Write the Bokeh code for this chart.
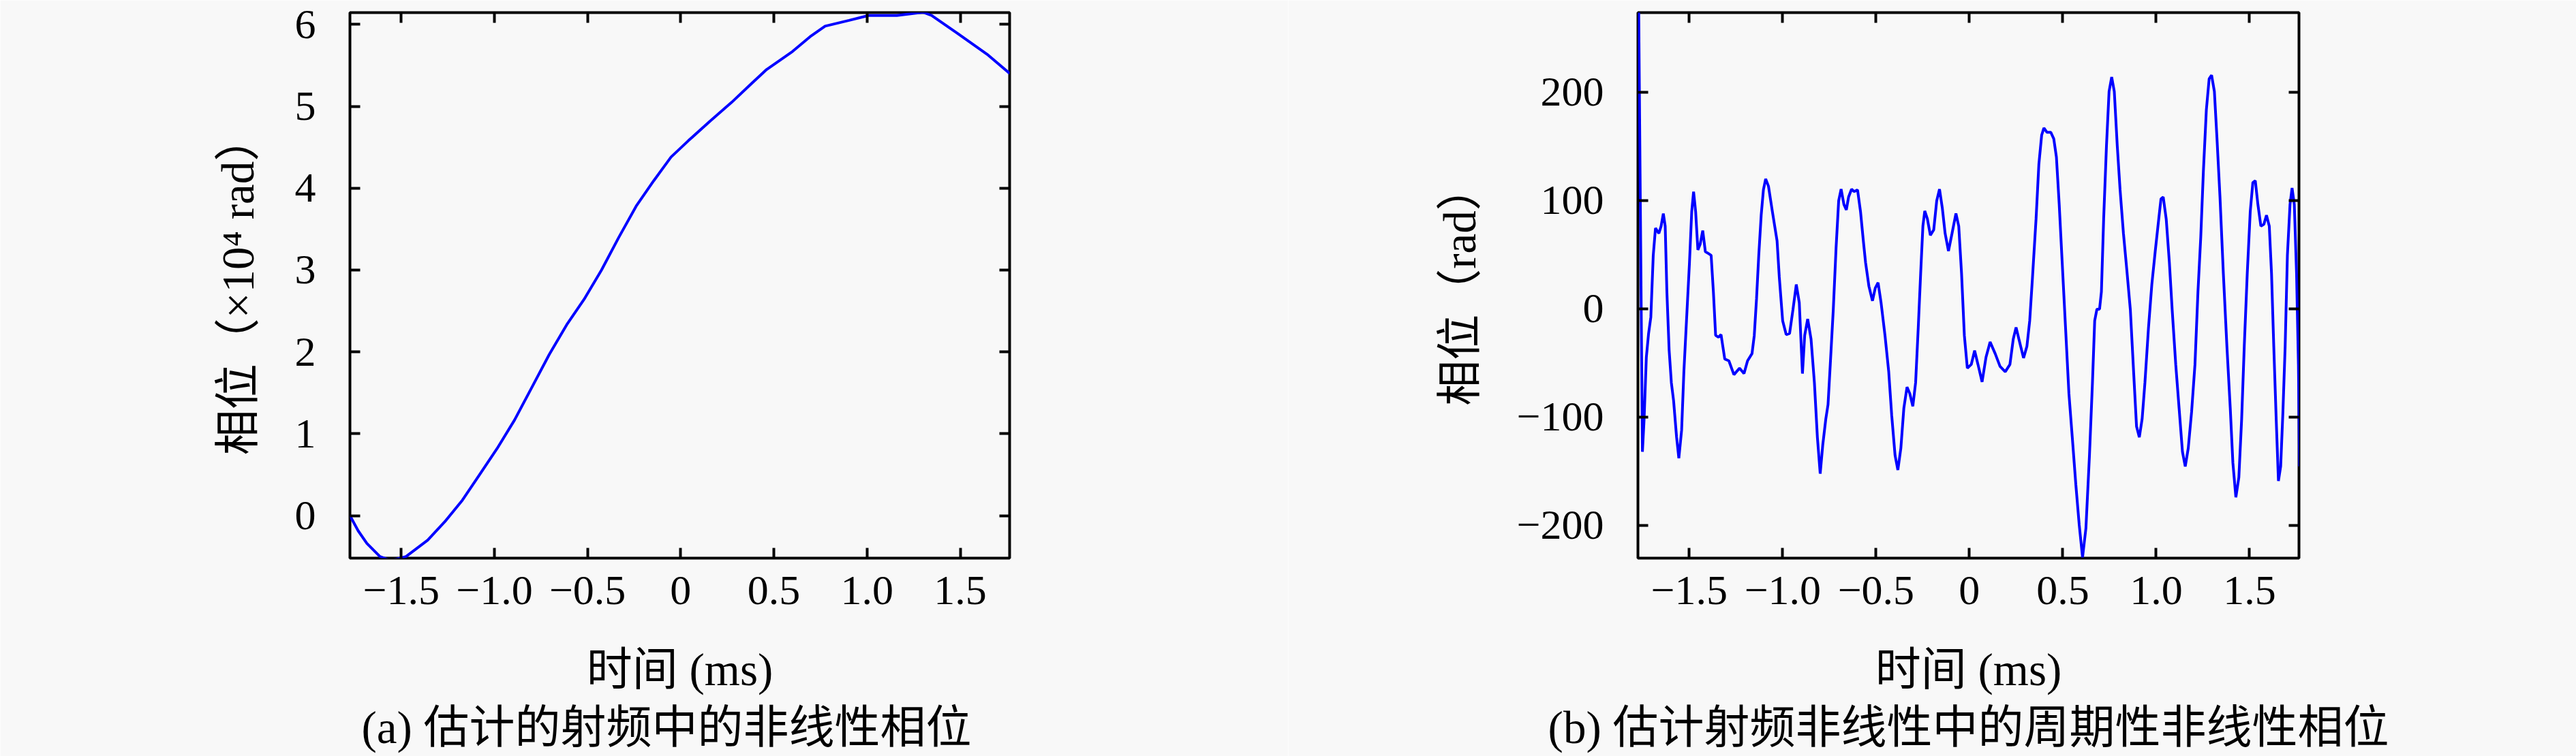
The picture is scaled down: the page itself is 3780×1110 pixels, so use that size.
from bokeh.plotting import figure
from bokeh.layouts import row
from bokeh.models import FixedTicker, LinearAxis, Range1d, Title
from bokeh.embed import file_html
from bokeh.resources import INLINE

# ---------------- data ----------------
time_a = [-1.775, -1.731, -1.684, -1.614, -1.556, -1.474, -1.358, -1.264, -1.171, -1.078,
          -0.985, -0.891, -0.798, -0.705, -0.612, -0.519, -0.425, -0.332, -0.239, -0.145,
          -0.052, 0.041, 0.158, 0.274, 0.367, 0.461, 0.600, 0.694, 0.775, 0.904,
          1.008, 1.160, 1.300, 1.346, 1.486, 1.650, 1.766]
phase_a = [0.0, -0.185, -0.34, -0.50, -0.55, -0.50, -0.30, -0.07, 0.19, 0.505,
           0.82, 1.17, 1.57, 1.97, 2.33, 2.64, 3.00, 3.40, 3.78, 4.09,
           4.38, 4.58, 4.82, 5.05, 5.25, 5.45, 5.67, 5.85, 5.98, 6.05,
           6.11, 6.11, 6.15, 6.11, 5.89, 5.625, 5.40]

time_b = [-1.772, -1.751, -1.742, -1.730, -1.718, -1.706, -1.693, -1.681, -1.663, -1.651,
          -1.639, -1.629, -1.620, -1.608, -1.596, -1.584, -1.568, -1.556, -1.541, -1.529,
          -1.515, -1.499, -1.487, -1.477, -1.466, -1.454, -1.442, -1.428, -1.414, -1.398,
          -1.383, -1.371, -1.359, -1.344, -1.330, -1.310, -1.288, -1.261, -1.231, -1.207,
          -1.188, -1.164, -1.152, -1.140, -1.128, -1.115, -1.103, -1.091, -1.076, -1.055,
          -1.030, -1.018, -1.000, -0.981, -0.963, -0.945, -0.927, -0.911, -0.894, -0.882,
          -0.866, -0.848, -0.830, -0.814, -0.799, -0.785, -0.769, -0.757, -0.745, -0.729,
          -0.714, -0.700, -0.687, -0.672, -0.659, -0.647, -0.631, -0.617, -0.599, -0.583,
          -0.568, -0.556, -0.538, -0.519, -0.504, -0.489, -0.473, -0.452, -0.432, -0.416,
          -0.398, -0.383, -0.367, -0.351, -0.334, -0.319, -0.303, -0.288, -0.274, -0.261,
          -0.249, -0.239, -0.225, -0.209, -0.191, -0.175, -0.160, -0.145, -0.130, -0.112,
          -0.093, -0.072, -0.057, -0.042, -0.027, -0.011, 0.010, 0.028, 0.046, 0.068,
          0.089, 0.111, 0.138, 0.164, 0.192, 0.217, 0.235, 0.250, 0.265, 0.290,
          0.308, 0.323, 0.338, 0.357, 0.372, 0.387, 0.399, 0.415, 0.436, 0.452,
          0.466, 0.481, 0.497, 0.515, 0.533, 0.551, 0.570, 0.588, 0.606, 0.624,
          0.643, 0.659, 0.671, 0.683, 0.697, 0.707, 0.719, 0.734, 0.748, 0.762,
          0.776, 0.792, 0.807, 0.825, 0.843, 0.862, 0.880, 0.895, 0.910, 0.925,
          0.940, 0.959, 0.977, 0.995, 1.014, 1.026, 1.038, 1.054, 1.071, 1.086,
          1.105, 1.123, 1.141, 1.156, 1.172, 1.190, 1.208, 1.224, 1.239, 1.253,
          1.269, 1.284, 1.297, 1.312, 1.326, 1.342, 1.360, 1.379, 1.397, 1.411,
          1.427, 1.443, 1.458, 1.472, 1.488, 1.504, 1.518, 1.531, 1.545, 1.561,
          1.577, 1.591, 1.606, 1.618, 1.630, 1.643, 1.655, 1.667, 1.679, 1.691,
          1.703, 1.717, 1.728, 1.740, 1.752, 1.762, 1.768]
phase_b = [300, -132, -102, -44.7, -22.8, -7.7, 49.4, 74.6, 69.6, 76.3,
           88, 76.3, 15.8, -38, -68.2, -85, -118.6, -138, -111.9, -58.1,
           -11, 42.7, 89.7, 108.2, 89.7, 54.4, 59.5, 72.2, 52.8, 51.1,
           49.4, 15.8, -24.5, -26.2, -23.8, -46.4, -48, -60.8, -54.8, -59.8,
           -48, -41.3, -24.5, 9.1, 49.4, 86.4, 109.9, 120, 113.2, 89.7,
           62.8, 29.2, -11, -23.8, -22.8, -1, 22.5, 5.7, -59.8, -24.5,
           -9.4, -27.9, -68.2, -118.6, -152.2, -125.3, -101.8, -88.4, -51.4, -1,
           56.1, 99.8, 110.5, 96.4, 91.4, 103.2, 110.5, 108.2, 109.9, 89.7,
           62.8, 42.7, 20.8, 7.4, 19.2, 24.2, 5.7, -24.5, -58.1, -98.4,
           -135.4, -148.8, -128.7, -91.7, -72.2, -78.3, -90, -68.2, -17.8, 32.6,
           76.3, 90.4, 83, 67.9, 72.9, 99.8, 110.5, 93, 69.6, 53.4,
           69.6, 88, 76.3, 32.6, -24.5, -54.8, -51.4, -38.6, -51.4, -67.5,
           -44.7, -30.6, -41.3, -53.1, -58.1, -51.4, -27.9, -17.1, -27.9, -45.4,
           -34.6, -11, 29.2, 83, 133.4, 160.3, 167, 163, 163, 156.9,
           140.1, 96.4, 42.7, -17.8, -78.3, -118.6, -162.3, -199.2, -229.5, -202.6,
           -135.4, -68.2, -11, -0.3, -0.3, 15.8, 83, 150.2, 200.6, 214,
           200.6, 150.2, 109.9, 69.6, 36, -1, -60, -108.5, -118.6, -101.8,
           -68.2, -17.8, 22.5, 52.8, 83, 101.5, 103.2, 83, 42.7, -1,
           -51.4, -91.7, -132, -145.5, -128.7, -95.1, -51.4, 15.8, 66.2, 126.7,
           183.8, 212.4, 215.7, 200.6, 156.9, 103.2, 32.6, -34.6, -91.7, -142.1,
           -174, -155.6, -101.8, -34.6, 32.6, 89.7, 116.6, 118.3, 96.4, 76.3,
           78, 86.4, 76.3, 32.6, -34.6, -101.8, -158.9, -145.5, -95.1, -34.6,
           49.4, 96.4, 111.6, 96.4, 32.6, -51.4, -145.5]

x_ticks = [-1.5, -1.0, -0.5, 0, 0.5, 1.0, 1.5]
x_tick_labels = ["\u22121.5", "\u22121.0", "\u22120.5", "0", "0.5", "1.0", "1.5"]
y_ticks_a = [0, 1, 2, 3, 4, 5, 6]
y_tick_labels_a = ["0", "1", "2", "3", "4", "5", "6"]
y_ticks_b = [-200, -100, 0, 100, 200]
y_tick_labels_b = ["\u2212200", "\u2212100", "0", "100", "200"]

x_label = "时间 (ms)"
y_label_a = "相位（×10⁴ rad）"
y_label_b = "相位（rad）"
caption_a = "(a) 估计的射频中的非线性相位"
caption_b = "(b) 估计射频非线性中的周期性非线性相位"

assert len(time_a) == len(phase_a)
assert len(time_b) == len(phase_b)

# ---------------- style ----------------
BG = "#f8f8f8"
FONT = "'Liberation Serif', 'Noto Sans CJK SC'"
FS = "62px"      # tick labels
FS_LABEL = "67px"  # axis labels and captions
LINE = "#0000ff"
FIG_H = 1110


def style_axis(ax, ticks, labels, show_labels=True):
    ax.ticker = FixedTicker(ticks=ticks)
    ax.major_label_overrides = {t: l for t, l in zip(ticks, labels)}
    ax.major_tick_in = 15
    ax.major_tick_out = 0
    ax.major_tick_line_width = 4
    ax.major_tick_line_color = "black"
    ax.minor_tick_line_color = None
    ax.axis_line_color = None
    ax.major_label_text_font = FONT
    ax.major_label_text_line_height = 1.0
    if show_labels:
        ax.major_label_text_font_size = FS
        ax.major_label_text_color = "black"
    else:
        ax.major_label_text_font_size = "1px"
        ax.major_label_text_color = None
        ax.major_label_text_alpha = 0
        ax.major_label_standoff = 0


def make_panel(xs, ys, yr, yticks, ylabels, ylabel, caption, width,
               border_left, border_right, cap_align, cap_offset):
    p = figure(width=width, height=FIG_H, output_backend="svg", toolbar_location=None,
               x_range=Range1d(-1.775, 1.765), y_range=Range1d(*yr),
               min_border_left=border_left, min_border_right=border_right,
               min_border_top=18, min_border_bottom=289)
    p.background_fill_color = BG
    p.border_fill_color = BG
    p.outline_line_color = "black"
    p.outline_line_width = 4
    p.xgrid.visible = False
    p.ygrid.visible = False

    xa = p.xaxis[0]
    style_axis(xa, x_ticks, x_tick_labels)
    xa.major_label_standoff = 27
    xa.axis_label = x_label
    xa.axis_label_text_font = FONT
    xa.axis_label_text_font_size = FS_LABEL
    xa.axis_label_text_font_style = "normal"
    xa.axis_label_text_color = "black"
    xa.axis_label_text_line_height = 1.0
    xa.axis_label_standoff = 56

    ya = p.yaxis[0]
    style_axis(ya, yticks, ylabels)
    ya.major_label_standoff = 50
    ya.axis_label = ylabel
    ya.axis_label_text_font = FONT
    ya.axis_label_text_font_size = FS_LABEL
    ya.axis_label_text_font_style = "normal"
    ya.axis_label_text_color = "black"
    ya.axis_label_text_line_height = 1.0
    ya.axis_label_standoff = 44

    top = LinearAxis()
    style_axis(top, x_ticks, x_tick_labels, show_labels=False)
    p.add_layout(top, "above")
    right = LinearAxis()
    style_axis(right, yticks, ylabels, show_labels=False)
    p.add_layout(right, "right")

    cap = Title(text=caption, align=cap_align, offset=cap_offset, standoff=12,
                text_font=FONT, text_font_size=FS_LABEL, text_font_style="normal",
                text_color="black", text_line_height=1.0)
    p.add_layout(cap, "below")

    p.line(xs, ys, line_color=LINE, line_width=4)
    return p


pa = make_panel(time_a, phase_a, (-0.52, 6.145), y_ticks_a, y_tick_labels_a,
                y_label_a, caption_a, 1890, 513, 409, "left", 17)
pb = make_panel(time_b, phase_b, (-230.2, 273.5), y_ticks_b, y_tick_labels_b,
                y_label_b, caption_b, 1890, 513, 407, "center", 0)

layout = row(pa, pb)
html = file_html(layout, INLINE)
html = html.replace("<body>", '<body style="background:%s">' % BG, 1)
open("out.html", "w").write(html)
